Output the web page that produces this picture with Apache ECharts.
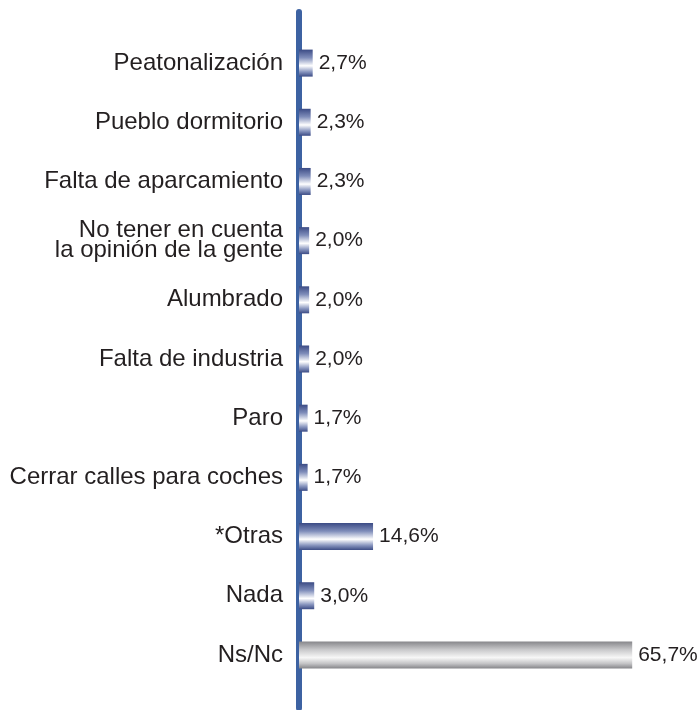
<!DOCTYPE html>
<html>
<head>
<meta charset="utf-8">
<script src="https://cdn.jsdelivr.net/npm/echarts@6/dist/echarts.min.js"></script>
<style>html,body{margin:0;padding:0;background:#fff}#c{width:699px;height:710px}</style>
</head>
<body>
<div id="c"></div>
<script>
const categories = [
  "Peatonalización",
  "Pueblo dormitorio",
  "Falta de aparcamiento",
  "No tener en cuenta\nla opinión de la gente",
  "Alumbrado",
  "Falta de industria",
  "Paro",
  "Cerrar calles para coches",
  "*Otras",
  "Nada",
  "Ns/Nc"
];
const values = [2.7, 2.3, 2.3, 2.0, 2.0, 2.0, 1.7, 1.7, 14.6, 3.0, 65.7];
const grayIndex = 10;

const blueGrad = new echarts.graphic.LinearGradient(0, 0, 0, 1, [
  {offset: 0, color: '#3b4b85'},
  {offset: 0.3, color: '#7f8dba'},
  {offset: 0.6, color: '#ffffff'},
  {offset: 0.82, color: '#8a97c0'},
  {offset: 1, color: '#3b4b85'}
]);
const grayGrad = new echarts.graphic.LinearGradient(0, 0, 0, 1, [
  {offset: 0, color: '#86868a'},
  {offset: 0.3, color: '#c8c8ca'},
  {offset: 0.6, color: '#f7f7f7'},
  {offset: 0.82, color: '#c4c4c6'},
  {offset: 1, color: '#86868a'}
]);

const chart = echarts.init(document.getElementById('c'), null, {renderer: 'canvas'});
chart.setOption({
  animation: false,
  grid: [
    {left: 299, top: 33.5, right: 45, bottom: 25.5, containLabel: false},
    {left: 299, top: 12, right: 45, bottom: 2, containLabel: false}
  ],
  xAxis: [
    {gridIndex: 0, type: 'value', min: 0, max: 70, show: false},
    {gridIndex: 1, type: 'value', min: 0, max: 70, show: false}
  ],
  yAxis: [
    {
      gridIndex: 0, type: 'category', data: categories, inverse: true, offset: 3,
      axisLine: {show: false}, axisTick: {show: false}, splitLine: {show: false},
      axisLabel: {
        margin: 13, fontSize: 24, fontFamily: 'Liberation Sans, Arial, sans-serif',
        color: '#231f20', lineHeight: 20, align: 'right'
      }
    },
    {
      gridIndex: 1, type: 'value', min: 0, max: 1, offset: 3,
      axisLine: {show: true, lineStyle: {color: '#3d62a2', width: 6}},
      axisTick: {show: false}, axisLabel: {show: false}, splitLine: {show: false}
    }
  ],
  series: [{
    type: 'bar',
    xAxisIndex: 0, yAxisIndex: 0,
    barWidth: 27,
    data: values.map((v, i) => ({value: v, itemStyle: {color: i === grayIndex ? grayGrad : blueGrad}})),
    label: {
      show: true, position: 'right', distance: 6,
      fontSize: 21, fontFamily: 'Liberation Sans, Arial, sans-serif', color: '#231f20',
      formatter: p => p.value.toFixed(1).replace('.', ',') + '%'
    }
  }]
});
</script>
</body>
</html>
